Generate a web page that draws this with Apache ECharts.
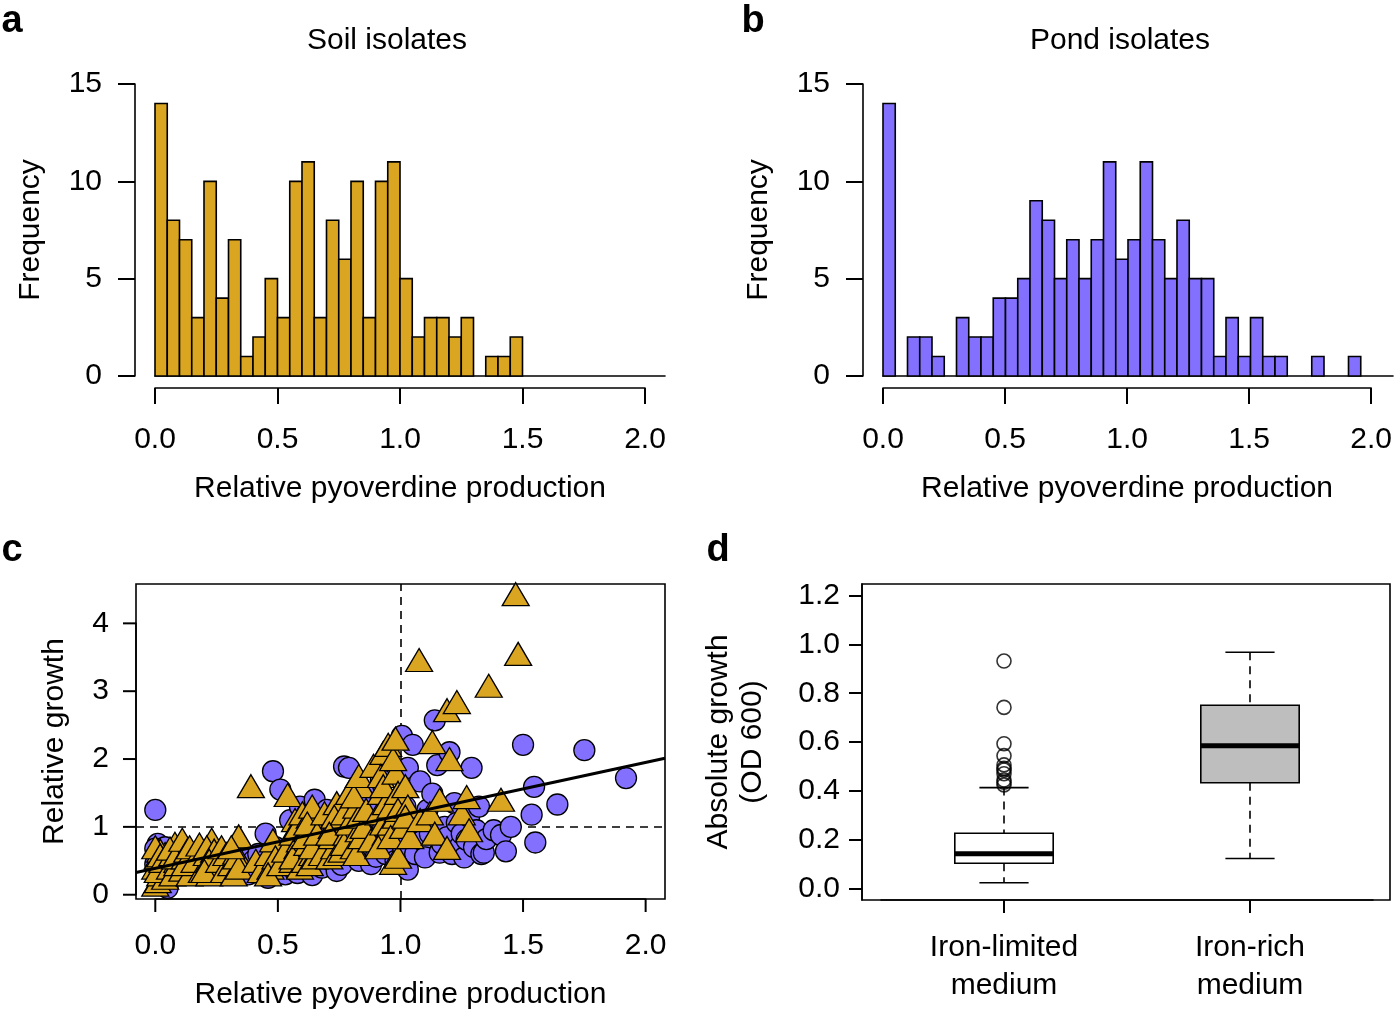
<!DOCTYPE html>
<html>
<head>
<meta charset="utf-8">
<script src="https://cdn.jsdelivr.net/npm/echarts@6/dist/echarts.min.js"></script>
<style>
  html, body { margin: 0; background: #fff; }
  #main { width: 1395px; height: 1012px; }
</style>
</head>
<body>
<div id="main"></div>
<script>
// histogram bins (width 0.05, starting at 0)
const binWidth = 0.05
const soilCounts = [14, 8, 7, 3, 10, 4, 7, 1, 2, 5, 3, 10, 11, 3, 8, 6, 10, 3, 10, 11, 5, 2, 3, 3, 2, 3, 0, 1, 1, 2]
const pondCounts = [14, 0, 2, 2, 1, 0, 3, 2, 2, 4, 4, 5, 9, 8, 5, 7, 5, 7, 11, 6, 7, 11, 7, 5, 8, 5, 5, 1, 3, 1, 3, 1, 1, 0, 0, 1, 0, 0, 1]
const pyoTicks = [0, 0.5, 1, 1.5, 2]
const growthTicks = [0, 1, 2, 3, 4]
const odTicks = [0, 0.2, 0.4, 0.6, 0.8, 1.0, 1.2]

// panel c: [relative pyoverdine, relative growth]
const pondPoints = [
  [0.00, 1.25], [0.01, 0.75], [0.02, 0.55], [0.00, 0.45], [0.03, 0.35], [0.01, 0.25], [0.04, 0.15],
  [0.02, 0.62], [0.00, 0.68], [0.03, 0.50], [0.05, 0.10], [0.02, 0.30], [0.04, 0.70], [0.01, 0.40],
  [0.12, 0.55], [0.14, 0.40], [0.17, 0.62], [0.19, 0.35], [0.22, 0.45],
  [0.32, 0.40], [0.35, 0.55], [0.38, 0.30], [0.40, 0.50], [0.42, 0.60], [0.44, 0.35], [0.45, 0.90],
  [0.46, 0.25], [0.47, 0.45], [0.48, 1.82], [0.49, 0.70],
  [0.51, 1.55], [0.52, 0.50], [0.53, 0.30], [0.55, 1.10], [0.56, 0.60], [0.57, 0.35], [0.58, 0.32],
  [0.59, 1.30], [0.60, 0.90], [0.61, 0.45], [0.62, 1.20], [0.63, 0.70], [0.64, 0.29], [0.65, 1.40],
  [0.66, 0.55], [0.67, 1.00], [0.68, 0.40], [0.69, 0.80], [0.70, 1.25], [0.71, 0.60], [0.72, 0.50],
  [0.73, 0.95], [0.74, 0.35],
  [0.76, 0.44], [0.77, 1.89], [0.79, 1.87], [0.78, 0.80], [0.80, 1.10], [0.81, 0.60], [0.82, 1.30],
  [0.83, 0.50], [0.84, 0.90], [0.85, 1.50], [0.86, 0.70], [0.87, 1.05], [0.88, 0.45], [0.89, 1.20],
  [0.90, 0.56], [0.91, 0.85], [0.92, 1.70], [0.93, 1.00], [0.94, 0.60], [0.95, 1.40], [0.96, 0.75],
  [0.97, 1.15], [0.98, 0.50], [0.99, 0.90],
  [1.006, 2.34], [1.01, 0.70], [1.02, 1.30], [1.03, 1.87], [1.03, 0.37], [1.04, 0.95], [1.05, 2.21],
  [1.06, 0.60], [1.07, 1.10], [1.08, 1.67], [1.09, 0.80], [1.10, 0.55], [1.11, 1.25], [1.12, 0.90],
  [1.13, 1.49], [1.14, 2.57], [1.15, 1.91], [1.16, 0.62], [1.17, 0.75], [1.18, 1.00], [1.19, 0.85],
  [1.20, 2.10], [1.21, 0.60], [1.22, 1.35], [1.23, 1.06], [1.24, 0.70], [1.25, 0.90], [1.26, 0.55],
  [1.27, 0.81], [1.28, 1.15], [1.29, 1.87], [1.30, 0.70], [1.31, 0.95], [1.32, 1.30], [1.33, 0.60],
  [1.34, 0.62], [1.35, 0.82],
  [1.38, 0.95], [1.41, 0.88], [1.43, 0.64], [1.45, 1.00], [1.50, 2.21], [1.535, 1.18], [1.545, 1.59],
  [1.55, 0.77], [1.64, 1.33], [1.75, 2.13], [1.92, 1.72]
]
const soilPoints = [
  [0.00, 0.15], [0.01, 0.20], [0.02, 0.30], [0.00, 0.40], [0.03, 0.51], [0.01, 0.55], [0.04, 0.60],
  [0.02, 0.65], [0.00, 0.70], [0.03, 0.45], [0.04, 0.25], [0.01, 0.35], [0.02, 0.58], [0.03, 0.50],
  [0.06, 0.40], [0.07, 0.60], [0.08, 0.75], [0.09, 0.50], [0.07, 0.30], [0.06, 0.68], [0.09, 0.45], [0.08, 0.55],
  [0.11, 0.81], [0.11, 0.37], [0.12, 0.55], [0.13, 0.65], [0.14, 0.30], [0.12, 0.45], [0.14, 0.70],
  [0.16, 0.50], [0.18, 0.74], [0.19, 0.35],
  [0.21, 0.60], [0.22, 0.44], [0.23, 0.81], [0.22, 0.30], [0.24, 0.55], [0.21, 0.70], [0.23, 0.40],
  [0.24, 0.65], [0.22, 0.50], [0.20, 0.35],
  [0.26, 0.50], [0.27, 0.70], [0.28, 0.35], [0.29, 0.60],
  [0.31, 0.45], [0.33, 0.62], [0.34, 0.86], [0.32, 0.30], [0.33, 0.55], [0.34, 0.40], [0.31, 0.70],
  [0.39, 1.60], [0.41, 0.50], [0.43, 0.35],
  [0.46, 0.60], [0.47, 0.40], [0.48, 0.80], [0.49, 0.55], [0.46, 0.30],
  [0.51, 0.45], [0.53, 0.65], [0.54, 1.47],
  [0.56, 0.50], [0.57, 1.10], [0.58, 0.70], [0.56, 0.90], [0.59, 0.40], [0.57, 0.60], [0.58, 1.00],
  [0.59, 0.80], [0.56, 0.55], [0.60, 1.20],
  [0.61, 0.50], [0.62, 0.75], [0.63, 1.15], [0.64, 0.60], [0.62, 0.95], [0.63, 0.45], [0.64, 1.30],
  [0.61, 0.85], [0.65, 0.55], [0.62, 1.05], [0.64, 0.70],
  [0.66, 0.90], [0.68, 0.60], [0.69, 1.20],
  [0.71, 0.55], [0.72, 1.00], [0.73, 0.70], [0.74, 1.35], [0.72, 0.85], [0.73, 1.15], [0.74, 0.60], [0.71, 0.90],
  [0.76, 0.65], [0.77, 1.20], [0.78, 0.90], [0.79, 1.50], [0.77, 0.75], [0.79, 1.05],
  [0.81, 0.70], [0.82, 1.30], [0.83, 0.95], [0.84, 1.60], [0.82, 0.60], [0.83, 1.15], [0.84, 0.85],
  [0.81, 1.45], [0.85, 1.00], [0.83, 1.75],
  [0.86, 1.25], [0.88, 0.80], [0.89, 1.90],
  [0.91, 1.20], [0.92, 1.50], [0.93, 2.09], [0.94, 0.90], [0.92, 1.75], [0.93, 1.05], [0.94, 1.35],
  [0.91, 0.70], [0.95, 2.21], [0.93, 1.60],
  [0.96, 1.30], [0.97, 0.47], [0.98, 1.80], [0.99, 0.56], [0.96, 1.05], [0.97, 2.00], [0.98, 1.15],
  [0.99, 1.50], [0.96, 0.85], [0.98, 2.30], [0.99, 1.25],
  [1.01, 1.00], [1.02, 1.60], [1.03, 1.30], [1.04, 0.85], [1.02, 1.15],
  [1.076, 3.46], [1.08, 1.10], [1.12, 1.20], [1.13, 2.25], [1.14, 0.90],
  [1.16, 1.40], [1.19, 0.69], [1.19, 2.72], [1.20, 2.00], [1.23, 2.84],
  [1.25, 1.20], [1.27, 1.44], [1.28, 0.95], [1.36, 3.08], [1.41, 1.40], [1.47, 4.43], [1.48, 3.55]
]
// linear fit drawn in panel c
const fitIntercept = 0.39
const fitSlope = 0.78

// panel d: [lower whisker, Q1, median, Q3, upper whisker]
const boxCategories = ['Iron-limited\nmedium', 'Iron-rich\nmedium']
const boxStats = [
  [0.023, 0.1025, 0.142, 0.2256, 0.413],
  [0.122, 0.433, 0.585, 0.7505, 0.968]
]
const limitedOutliers = [0.932, 0.742, 0.593, 0.544, 0.506, 0.492, 0.485, 0.47, 0.444, 0.435, 0.424]

const FONT = 'Liberation Sans, Arial, Helvetica, sans-serif'
const soilColor = '#DAA520'
const pondColor = '#8470FF'
const boxFills = ['#ffffff', '#bebebe']
const black = { color: '#000', width: 1.6 }
const tickStyle = { color: '#000', width: 2 }
const cTickLen = 13

// panel c plot box and its data range (R-style 4% padding)
const cBox = { left: 136, top: 584, width: 529, height: 315 }
const cX = [-0.0787, 2.079]
const cY = [-0.063, 4.58]
const cPxX = cBox.width / (cX[1] - cX[0])
const cPxY = cBox.height / (cY[1] - cY[0])

function binsOf (counts) {
  return counts
    .map((n, i) => [i * binWidth, (i + 1) * binWidth, n])
    .filter(b => b[2] > 0)
}

function histItem (color) {
  return function (params, api) {
    const p0 = api.coord([api.value(0), api.value(2)])
    const p1 = api.coord([api.value(1), 0])
    return {
      type: 'rect',
      shape: { x: p0[0], y: p0[1], width: p1[0] - p0[0], height: p1[1] - p0[1] },
      style: { fill: color, stroke: '#000', lineWidth: 1.6 }
    }
  }
}

// tick marks of panel c, placed through the axis scales
function xTickItem (params, api) {
  const p = api.coord([api.value(0), 0])
  return {
    type: 'line',
    shape: { x1: p[0], y1: p[1], x2: p[0], y2: p[1] + cTickLen },
    style: { stroke: '#000', lineWidth: 2 }
  }
}
function yTickItem (params, api) {
  const p = api.coord([0, api.value(1)])
  return {
    type: 'line',
    shape: { x1: p[0] - cTickLen, y1: p[1], x2: p[0], y2: p[1] },
    style: { stroke: '#000', lineWidth: 2 }
  }
}

function boxItem (params, api) {
  const idx = api.value(0)
  const band = api.size([1, 0])[0]
  const boxHalf = band * 0.2
  const capHalf = band * 0.1
  const cx = api.coord([idx, 0])[0]
  const y = v => api.coord([idx, v])[1]
  const lo = y(api.value(1))
  const q1 = y(api.value(2))
  const med = y(api.value(3))
  const q3 = y(api.value(4))
  const hi = y(api.value(5))
  const line = (x1, y1, x2, y2, extra) => ({
    type: 'line',
    shape: { x1, y1, x2, y2 },
    style: Object.assign({ stroke: '#000', lineWidth: 1.6 }, extra)
  })
  return {
    type: 'group',
    children: [
      line(cx, hi, cx, q3, { lineDash: [8, 6] }),
      line(cx, q1, cx, lo, { lineDash: [8, 6] }),
      line(cx - capHalf, hi, cx + capHalf, hi),
      line(cx - capHalf, lo, cx + capHalf, lo),
      {
        type: 'rect',
        shape: { x: cx - boxHalf, y: q3, width: boxHalf * 2, height: q1 - q3 },
        style: { fill: boxFills[idx], stroke: '#000', lineWidth: 1.6 }
      },
      line(cx - boxHalf, med, cx + boxHalf, med, { lineWidth: 5 })
    ]
  }
}

const labelStyle = { color: '#000', fontSize: 30, fontFamily: FONT }
const nameStyle = { color: '#000', fontSize: 30, fontFamily: FONT }
const pyoName = 'Relative pyoverdine production'

function hidden (gridIndex) {
  return { gridIndex, type: 'value', show: false, min: 0, max: 1 }
}

// R-style x axis that runs only from 0 to 2
function pyoAxis (gridIndex, margin, nameGap, tickLen) {
  return {
    gridIndex,
    type: 'value',
    min: 0,
    max: 2,
    interval: 0.5,
    axisLine: { show: true, lineStyle: black, onZero: false },
    axisTick: { show: tickLen > 0, length: tickLen, lineStyle: tickStyle },
    axisLabel: Object.assign({ margin, formatter: v => v.toFixed(1) }, labelStyle),
    splitLine: { show: false },
    name: pyoName,
    nameLocation: 'middle',
    nameGap,
    nameTextStyle: nameStyle
  }
}

function histBaseAxis (gridIndex) {
  return {
    gridIndex,
    type: 'value',
    min: 0,
    max: 510 / 245,
    axisLine: { lineStyle: black, onZero: false },
    axisTick: { show: false },
    axisLabel: { show: false },
    splitLine: { show: false }
  }
}

function freqAxis (gridIndex) {
  return {
    gridIndex,
    type: 'value',
    min: 0,
    max: 15,
    interval: 5,
    offset: 20,
    axisLine: { show: true, lineStyle: black, onZero: false },
    axisTick: { show: true, length: 17, lineStyle: tickStyle },
    axisLabel: Object.assign({ margin: 33 }, labelStyle),
    splitLine: { show: false },
    name: 'Frequency',
    nameLocation: 'middle',
    nameGap: 89,
    nameTextStyle: nameStyle
  }
}

const myChart = echarts.init(document.getElementById('main'))

const option = {
  animation: false,
  backgroundColor: '#fff',
  textStyle: { fontFamily: FONT },
  grid: [
    { left: 155, top: 84, width: 510, height: 292 }, // 0 a bars
    { left: 155, top: 376, width: 490, height: 12 }, // 1 a axis
    { left: 883, top: 84, width: 510, height: 292 }, // 2 b bars
    { left: 883, top: 376, width: 490, height: 12 }, // 3 b axis
    Object.assign({ show: true, borderColor: '#000', borderWidth: 1.6 }, cBox), // 4 c points
    { // 5 c x axis (0..2)
      left: cBox.left - cX[0] * cPxX,
      width: 2 * cPxX,
      top: cBox.top + cBox.height - 12,
      height: 12
    },
    { // 6 c y axis (0..4)
      left: cBox.left,
      width: 12,
      top: cBox.top + (cY[1] - 4) * cPxY,
      height: 4 * cPxY
    },
    { left: 862, top: 584, width: 528, height: 316, show: true, borderColor: '#000', borderWidth: 1.6 }, // 7 d frame
    { left: 881, top: 584, width: 492, height: 316 } // 8 d boxes
  ],
  xAxis: [
    histBaseAxis(0),
    pyoAxis(1, 37, 86, 16),
    histBaseAxis(2),
    pyoAxis(3, 37, 86, 16),
    { gridIndex: 4, type: 'value', show: false, min: cX[0], max: cX[1] },
    pyoAxis(5, 32, 81, 0),
    hidden(6),
    hidden(7),
    {
      gridIndex: 8,
      type: 'category',
      data: boxCategories,
      axisLine: { show: true, lineStyle: black, onZero: false },
      axisTick: { show: true, alignWithLabel: true, length: 13, lineStyle: tickStyle },
      axisLabel: Object.assign({ margin: 29, lineHeight: 38, interval: 0 }, labelStyle),
      splitLine: { show: false }
    }
  ],
  yAxis: [
    freqAxis(0),
    hidden(1),
    freqAxis(2),
    hidden(3),
    {
      gridIndex: 4,
      type: 'value',
      min: cY[0],
      max: cY[1],
      axisLine: { show: false, onZero: false },
      axisTick: { show: false },
      axisLabel: { show: false },
      splitLine: { show: false },
      name: 'Relative growth',
      nameLocation: 'middle',
      nameGap: 66,
      nameTextStyle: nameStyle
    },
    hidden(5),
    {
      gridIndex: 6,
      type: 'value',
      min: 0,
      max: 4,
      interval: 1,
      axisLine: { show: true, lineStyle: black, onZero: false },
      axisTick: { show: false },
      axisLabel: Object.assign({ margin: 27 }, labelStyle),
      splitLine: { show: false }
    },
    hidden(7),
    {
      gridIndex: 8,
      type: 'value',
      min: -0.048,
      max: 1.248,
      offset: 19,
      axisLine: { show: true, lineStyle: black, onZero: false },
      axisTick: { show: true, length: 13, lineStyle: tickStyle, customValues: odTicks },
      axisLabel: Object.assign({ margin: 22, customValues: odTicks, formatter: v => v.toFixed(1) }, labelStyle),
      splitLine: { show: false },
      name: 'Absolute growth\n(OD 600)',
      nameLocation: 'middle',
      nameGap: 92,
      nameTextStyle: Object.assign({ lineHeight: 34 }, nameStyle)
    }
  ],
  series: [
    {
      type: 'custom',
      xAxisIndex: 0,
      yAxisIndex: 0,
      data: binsOf(soilCounts),
      encode: { x: [0, 1], y: 2 },
      renderItem: histItem(soilColor)
    },
    {
      type: 'custom',
      xAxisIndex: 2,
      yAxisIndex: 2,
      data: binsOf(pondCounts),
      encode: { x: [0, 1], y: 2 },
      renderItem: histItem(pondColor)
    },
    {
      type: 'scatter',
      xAxisIndex: 4,
      yAxisIndex: 4,
      data: pondPoints,
      symbol: 'circle',
      symbolSize: 21,
      itemStyle: { color: pondColor, borderColor: '#000', borderWidth: 1.3, opacity: 1 },
      markLine: {
        silent: true,
        z: 1,
        symbol: ['none', 'none'],
        label: { show: false },
        lineStyle: { color: '#000', width: 1.6, type: [8, 6] },
        data: [{ xAxis: 1 }, { yAxis: 1 }]
      }
    },
    {
      type: 'scatter',
      xAxisIndex: 4,
      yAxisIndex: 4,
      data: soilPoints,
      symbol: 'triangle',
      symbolSize: [27, 23],
      itemStyle: { color: soilColor, borderColor: '#000', borderWidth: 1.3, opacity: 1 }
    },
    {
      type: 'line',
      xAxisIndex: 4,
      yAxisIndex: 4,
      z: 3,
      data: cX.map(x => [x, fitIntercept + fitSlope * x]),
      symbol: 'none',
      lineStyle: { color: '#000', width: 3 }
    },
    {
      type: 'custom',
      xAxisIndex: 5,
      yAxisIndex: 5,
      z: 10,
      clip: false,
      silent: true,
      data: pyoTicks.map(v => [v, 0]),
      encode: { x: 0, y: 1 },
      renderItem: xTickItem
    },
    {
      type: 'custom',
      xAxisIndex: 6,
      yAxisIndex: 6,
      z: 10,
      clip: false,
      silent: true,
      data: growthTicks.map(v => [0, v]),
      encode: { x: 0, y: 1 },
      renderItem: yTickItem
    },
    {
      type: 'custom',
      xAxisIndex: 8,
      yAxisIndex: 8,
      data: boxStats.map((s, i) => [i, ...s]),
      encode: { x: 0, y: [1, 2, 3, 4, 5] },
      renderItem: boxItem
    },
    {
      type: 'scatter',
      xAxisIndex: 8,
      yAxisIndex: 8,
      data: limitedOutliers.map(v => [0, v]),
      symbol: 'circle',
      symbolSize: 14,
      itemStyle: { color: 'rgba(0,0,0,0)', borderColor: '#000', borderWidth: 1.6 }
    }
  ],
  graphic: [
    { type: 'text', x: 12, y: 22, style: { text: 'a', font: 'bold 38px ' + FONT, fill: '#000', align: 'center', verticalAlign: 'middle' } },
    { type: 'text', x: 753, y: 22, style: { text: 'b', font: 'bold 38px ' + FONT, fill: '#000', align: 'center', verticalAlign: 'middle' } },
    { type: 'text', x: 12, y: 551, style: { text: 'c', font: 'bold 38px ' + FONT, fill: '#000', align: 'center', verticalAlign: 'middle' } },
    { type: 'text', x: 718, y: 551, style: { text: 'd', font: 'bold 38px ' + FONT, fill: '#000', align: 'center', verticalAlign: 'middle' } },
    { type: 'text', x: 387, y: 41, style: { text: 'Soil isolates', font: '30px ' + FONT, fill: '#000', align: 'center', verticalAlign: 'middle' } },
    { type: 'text', x: 1120, y: 41, style: { text: 'Pond isolates', font: '30px ' + FONT, fill: '#000', align: 'center', verticalAlign: 'middle' } }
  ]
}

myChart.setOption(option)
</script>
</body>
</html>
